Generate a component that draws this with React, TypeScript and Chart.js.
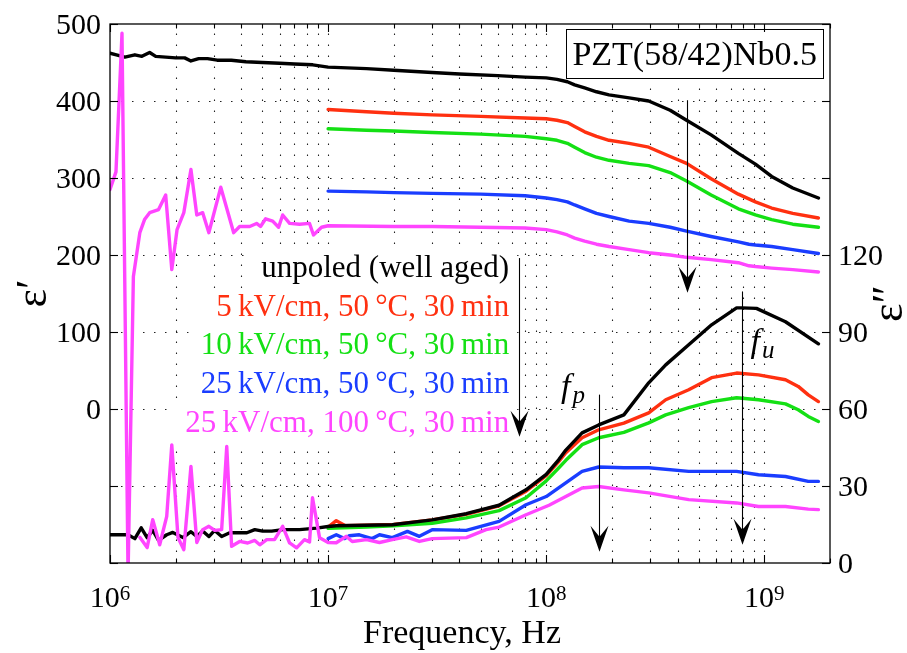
import React, { useEffect, useRef } from "react";
import { Chart, registerables } from "chart.js";

Chart.register(...registerables);

type Pt = [number, number];

// ---------- axis ranges & ticks ----------
const X_MIN = 1e6;
const X_MAX = 2e9;
const LEFT_MIN = -200;
const LEFT_MAX = 500;
const RIGHT_MIN = 0;
const RIGHT_MAX = 210;
const xTickExponents = [6, 7, 8, 9];
const leftTickMarks = [-200, -100, 0, 100, 200, 300, 400, 500];
const leftTickLabels = [0, 100, 200, 300, 400, 500];
const rightTickMarks = [0, 30, 60, 90, 120, 150, 180, 210];
const rightTickLabels = [0, 30, 60, 90, 120];

// ---------- ε' (left axis) ----------
const epsRealUnpoled: Pt[] = [
  [1e6, 462], [1.07e6, 460], [1.17e6, 457], [1.3e6, 460], [1.4e6, 458], [1.52e6, 463],
  [1.62e6, 458], [1.8e6, 457], [2.0e6, 456], [2.2e6, 456], [2.35e6, 452], [2.55e6, 455],
  [2.8e6, 455], [3.1e6, 453], [3.6e6, 453], [4.2e6, 451], [5e6, 450], [6e6, 449],
  [7e6, 448], [8.5e6, 447], [1e7, 444], [1.5e7, 442], [2e7, 440], [3e7, 437], [4e7, 435],
  [6e7, 433], [8e7, 431], [1e8, 430], [1.12e8, 428], [1.25e8, 425], [1.35e8, 421],
  [1.5e8, 417], [1.7e8, 412], [1.94e8, 408], [2.4e8, 404], [2.95e8, 400], [3.7e8, 388],
  [4.4e8, 375], [5.7e8, 356], [7.6e8, 332], [9.1e8, 318], [1.08e9, 302], [1.35e9, 287],
  [1.77e9, 274],
];
const epsReal5kV50C: Pt[] = [
  [1e7, 389], [1.5e7, 386], [2e7, 384], [3e7, 382], [5e7, 380], [8e7, 378], [1e8, 377],
  [1.12e8, 375], [1.25e8, 372], [1.35e8, 367], [1.5e8, 360], [1.7e8, 354], [1.94e8, 349],
  [2.4e8, 345], [2.95e8, 340], [3.7e8, 328], [4.4e8, 319], [5.7e8, 299], [7.6e8, 279],
  [9.1e8, 269], [1.08e9, 261], [1.35e9, 254], [1.77e9, 248],
];
const epsReal10kV50C: Pt[] = [
  [1e7, 364], [1.5e7, 362], [2e7, 361], [3e7, 359], [5e7, 357], [8e7, 354], [1e8, 351],
  [1.12e8, 349], [1.25e8, 345], [1.35e8, 340], [1.5e8, 333], [1.7e8, 327], [1.94e8, 323],
  [2.4e8, 319], [2.95e8, 316], [3.7e8, 307], [4.4e8, 296], [5.7e8, 278], [7.6e8, 260],
  [9.1e8, 252], [1.08e9, 246], [1.35e9, 240], [1.77e9, 236],
];
const epsReal25kV50C: Pt[] = [
  [1e7, 283], [1.5e7, 282], [2e7, 281], [3e7, 280], [5e7, 279], [8e7, 277], [1e8, 274],
  [1.12e8, 272], [1.25e8, 269], [1.35e8, 265], [1.5e8, 260], [1.7e8, 254], [1.94e8, 250],
  [2.4e8, 244], [2.95e8, 241], [3.7e8, 236], [4.4e8, 231], [5.7e8, 224], [7.6e8, 217],
  [8.5e8, 214], [9.1e8, 213], [1.08e9, 211], [1.35e9, 207], [1.77e9, 202],
];
const epsReal25kV100C: Pt[] = [
  [1e6, 285], [1.065e6, 308], [1.135e6, 488], [1.21e6, -215], [1.28e6, 172], [1.37e6, 229],
  [1.44e6, 246], [1.52e6, 255], [1.67e6, 259], [1.8e6, 278], [1.92e6, 181], [2.03e6, 233],
  [2.18e6, 255], [2.35e6, 311], [2.5e6, 252], [2.66e6, 255], [2.84e6, 229], [3.22e6, 288],
  [3.69e6, 229], [3.93e6, 237], [4.37e6, 237], [4.7e6, 241], [4.9e6, 237], [5.17e6, 247],
  [5.57e6, 244], [5.93e6, 236], [6.19e6, 252], [6.66e6, 241], [7.4e6, 240], [8.22e6, 241],
  [8.57e6, 226], [9.33e6, 236], [1e7, 238], [2e7, 237], [3e7, 237], [5e7, 236], [8e7, 235],
  [1e8, 233], [1.12e8, 230], [1.25e8, 226], [1.35e8, 222], [1.5e8, 218], [1.7e8, 214],
  [1.94e8, 211], [2.4e8, 207], [2.95e8, 203], [3.7e8, 200], [4.4e8, 197], [5.7e8, 194],
  [7.6e8, 190], [8.5e8, 186], [9.1e8, 185], [1.08e9, 183], [1.35e9, 181], [1.77e9, 178],
];

// ---------- ε'' (right axis) ----------
const epsImagUnpoled: Pt[] = [
  [1e6, 11], [1.21e6, 11], [1.3e6, 9.5], [1.39e6, 13.7], [1.48e6, 9.9], [1.57e6, 12.7],
  [1.67e6, 8.8], [1.82e6, 11], [1.94e6, 11.9], [2.16e6, 9.9], [2.35e6, 12.2], [2.5e6, 10.3],
  [2.66e6, 12.5], [2.84e6, 10.3], [3.02e6, 12.7], [3.25e6, 10.3], [3.54e6, 11.8],
  [4.24e6, 11.8], [4.61e6, 13], [5.01e6, 12.4], [5.51e6, 12.4], [6.19e6, 13], [7.4e6, 13],
  [8.84e6, 13.6], [1e7, 14.2], [1.09e7, 14.5], [1.97e7, 14.9], [3e7, 16.8], [4.3e7, 19.2],
  [6.08e7, 22.5], [6.97e7, 25.4], [8.08e7, 28.5], [1e8, 34.5], [1.14e8, 40.2], [1.23e8, 44],
  [1.46e8, 50.7], [1.74e8, 53.8], [2.27e8, 57.7], [2.95e8, 70.2], [3.53e8, 77.2],
  [4.5e8, 85], [5.73e8, 92.8], [7.46e8, 99.4], [7.9e8, 99.4], [9.2e8, 99.2], [1.25e9, 94],
  [1.77e9, 85.4],
];
const epsImag5kV50C: Pt[] = [
  [1e7, 14], [1.09e7, 16.5], [1.2e7, 14.5], [2e7, 15], [3e7, 16.8], [4.3e7, 19],
  [6.08e7, 22.3], [8.08e7, 28], [1e8, 34], [1.14e8, 39.5], [1.23e8, 43], [1.46e8, 48.8],
  [1.74e8, 51.9], [2.27e8, 54.5], [2.95e8, 58.5], [3.53e8, 63.6], [4.5e8, 67.5],
  [5.73e8, 72.2], [7.46e8, 74], [9.4e8, 73.3], [1.25e9, 71.4], [1.43e9, 68.8],
  [1.59e9, 65.5], [1.77e9, 62.9],
];
const epsImag10kV50C: Pt[] = [
  [1e7, 13.5], [1.5e7, 14], [2e7, 14.5], [3e7, 15.5], [4.3e7, 17.6], [6.08e7, 20.4],
  [8.08e7, 25.4], [1e8, 32], [1.14e8, 37], [1.23e8, 40], [1.46e8, 46.1], [1.74e8, 48.8],
  [2.27e8, 50.9], [2.95e8, 54.6], [3.53e8, 57.7], [4.5e8, 60.5], [5.73e8, 62.9],
  [7.46e8, 64.4], [9.4e8, 63.6], [1.25e9, 62], [1.43e9, 59.7], [1.59e9, 57.1],
  [1.77e9, 55.1],
];
const epsImag25kV50C: Pt[] = [
  [1e7, 9.5], [1.09e7, 11], [1.19e7, 9.5], [1.25e7, 10.6], [1.39e7, 11], [1.59e7, 9.5],
  [1.72e7, 11], [1.97e7, 9.9], [2.31e7, 12.3], [2.62e7, 10.4], [3e7, 13], [4.3e7, 12.7],
  [6.08e7, 16.2], [8.08e7, 22.7], [1e8, 25.9], [1.14e8, 29.3], [1.46e8, 35.7],
  [1.74e8, 37.4], [2.27e8, 37.1], [2.95e8, 37.1], [4.5e8, 35.7], [7.46e8, 35.7],
  [9.4e8, 34.4], [1.25e9, 33.7], [1.59e9, 31.8], [1.77e9, 31.8],
];
const epsImag25kV100C: Pt[] = [
  [1.37e6, 10], [1.48e6, 6], [1.57e6, 16.9], [1.69e6, 7.1], [1.82e6, 18.2], [1.92e6, 46],
  [2.05e6, 9.9], [2.18e6, 5.2], [2.35e6, 37.6], [2.5e6, 8], [2.66e6, 13], [2.84e6, 14.3],
  [3.02e6, 12.7], [3.25e6, 13], [3.43e6, 45.4], [3.61e6, 6.5], [3.93e6, 8.4], [4.28e6, 7.8],
  [4.61e6, 8.8], [4.86e6, 7.1], [5.23e6, 9.1], [5.68e6, 9.1], [6.19e6, 14.3], [6.66e6, 7.8],
  [7.17e6, 5.9], [7.79e6, 9.1], [8.22e6, 8.2], [8.48e6, 25.4], [9.14e6, 9.8], [1e7, 8],
  [1.09e7, 7.9], [1.21e7, 10.4], [1.29e7, 8.4], [1.5e7, 9.1], [1.72e7, 8], [1.97e7, 9.1],
  [2.28e7, 10.2], [2.62e7, 8.4], [3e7, 9.5], [4.3e7, 9.9], [5.3e7, 13], [6.08e7, 14],
  [8.08e7, 18.8], [1.03e8, 22.5], [1.46e8, 29.2], [1.74e8, 29.8], [2.27e8, 28.5],
  [2.95e8, 27.3], [4.5e8, 24.7], [7.46e8, 23.4], [9.4e8, 22], [1.25e9, 22], [1.59e9, 21],
  [1.77e9, 20.8],
];

// ---------- legend / annotations ----------
const seriesLabels = [
  "unpoled (well aged)",
  "5\u2009kV/cm, 50\u2009°C, 30\u2009min",
  "10\u2009kV/cm, 50\u2009°C, 30\u2009min",
  "25\u2009kV/cm, 50\u2009°C, 30\u2009min",
  "25\u2009kV/cm, 100\u2009°C, 30\u2009min",
];
const seriesColors = ["#000000", "#ff3010", "#14e014", "#1a3dff", "#ff45ff"];
const titleText = "PZT(58/42)Nb0.5";
const xAxisTitle = "Frequency, Hz";
const leftAxisTitle = "ε′";
const rightAxisTitle = "ε″";
// legend anchor: right edge frequency, first baseline on ε' axis
const legendAnchorFreq = 6.76e7;
const legendAnchorEps = 171.6;
const legendRowStep = 38.7;
// arrows: frequency, from, to, axis
const arrowFreqs = [4.41e8, 7.51e7, 1.74e8, 7.9e8];
const arrowFrom = [401, 196, 65.6, 105.8];
const arrowTo = [151, -36, 4.4, 7.1];
const arrowAxes = ["y", "y", "y1", "y1"];
// f labels: freq, ε'' baseline
const fLabelSubs = ["p", "u"];
const fLabelFreqs = [1.17e8, 8.65e8];
const fLabelVals = [64.8, 82.3];

const SERIF = '"Liberation Serif", "Times New Roman", serif';
const LEGEND_FONT = `31px ${SERIF}`;

const toXY = (pts: Pt[]) => pts.map(([x, y]) => ({ x, y }));

const decorPlugin = {
  id: "decor",
  beforeDraw(chart: any) {
    const ctx = chart.ctx;
    ctx.save();
    ctx.fillStyle = "#ffffff";
    ctx.fillRect(0, 0, chart.width, chart.height);
    ctx.restore();
  },
  beforeDatasetsDraw(chart: any) {
    const { ctx, chartArea: ca, scales } = chart;
    const sx = scales.x;
    const sy = scales.y;
    ctx.save();
    // dotted grid
    ctx.strokeStyle = "#222";
    ctx.lineWidth = 1.1;
    ctx.setLineDash([1.5, 9.5]);
    for (let e = 6; e <= 9; e++) {
      for (let m = 1; m <= 9; m++) {
        const v = m * Math.pow(10, e);
        if (v <= X_MIN || v >= X_MAX) continue;
        const px = Math.round(sx.getPixelForValue(v)) + 0.5;
        ctx.beginPath();
        ctx.moveTo(px, ca.bottom);
        ctx.lineTo(px, ca.top);
        ctx.stroke();
      }
    }
    for (const v of leftTickMarks) {
      if (v <= LEFT_MIN || v >= LEFT_MAX) continue;
      const py = Math.round(sy.getPixelForValue(v)) + 0.5;
      ctx.beginPath();
      ctx.moveTo(ca.left, py);
      ctx.lineTo(ca.right, py);
      ctx.stroke();
    }
    ctx.setLineDash([]);
    // white backgrounds for legend rows
    ctx.fillStyle = "#ffffff";
    ctx.font = LEGEND_FONT;
    const xr = sx.getPixelForValue(legendAnchorFreq);
    const y0 = sy.getPixelForValue(legendAnchorEps);
    seriesLabels.forEach((t, i) => {
      const w = ctx.measureText(t).width;
      const by = y0 + i * legendRowStep;
      ctx.fillRect(xr - w - 12, by - 27, w + 20, legendRowStep + 1);
    });
    // title box background
    ctx.font = `34px ${SERIF}`;
    const tw = ctx.measureText(titleText).width;
    const bw = tw + 12;
    ctx.fillRect(ca.right - 7 - bw, ca.top + 5, bw, 49);
    ctx.restore();
  },
  afterDatasetsDraw(chart: any) {
    const { ctx, chartArea: ca, scales } = chart;
    const sx = scales.x;
    const sy = scales.y;
    const sy1 = scales.y1;
    ctx.save();
    // frame
    ctx.strokeStyle = "#000";
    ctx.lineWidth = 1.3;
    ctx.strokeRect(ca.left, ca.top, ca.right - ca.left, ca.bottom - ca.top);
    // x ticks
    ctx.lineWidth = 1.1;
    for (let e = 6; e <= 9; e++) {
      for (let m = 1; m <= 9; m++) {
        const v = m * Math.pow(10, e);
        if (v < X_MIN || v > X_MAX) continue;
        const px = Math.round(sx.getPixelForValue(v)) + 0.5;
        const len = m === 1 ? 8 : 4.5;
        ctx.beginPath();
        ctx.moveTo(px, ca.bottom);
        ctx.lineTo(px, ca.bottom - len);
        ctx.moveTo(px, ca.top);
        ctx.lineTo(px, ca.top + len);
        ctx.stroke();
      }
    }
    for (const v of leftTickMarks) {
      const py = Math.round(sy.getPixelForValue(v)) + 0.5;
      ctx.beginPath();
      ctx.moveTo(ca.left, py);
      ctx.lineTo(ca.left + 8, py);
      ctx.stroke();
    }
    for (const v of rightTickMarks) {
      const py = Math.round(sy1.getPixelForValue(v)) + 0.5;
      ctx.beginPath();
      ctx.moveTo(ca.right, py);
      ctx.lineTo(ca.right - 8, py);
      ctx.stroke();
    }
    // tick labels
    ctx.fillStyle = "#000";
    ctx.font = `30px ${SERIF}`;
    ctx.textBaseline = "alphabetic";
    ctx.textAlign = "right";
    for (const v of leftTickLabels) {
      ctx.fillText(String(v), ca.left - 9, sy.getPixelForValue(v) + 10);
    }
    ctx.textAlign = "left";
    for (const v of rightTickLabels) {
      ctx.fillText(String(v), ca.right + 8, sy1.getPixelForValue(v) + 10);
    }
    for (const e of xTickExponents) {
      const px = sx.getPixelForValue(Math.pow(10, e));
      ctx.font = `30px ${SERIF}`;
      const w1 = ctx.measureText("10").width;
      ctx.font = `21px ${SERIF}`;
      const w2 = ctx.measureText(String(e)).width;
      const start = px - (w1 + w2) / 2;
      ctx.font = `30px ${SERIF}`;
      ctx.fillText("10", start, ca.bottom + 44);
      ctx.font = `21px ${SERIF}`;
      ctx.fillText(String(e), start + w1, ca.bottom + 37);
    }
    // axis titles
    ctx.font = `34px ${SERIF}`;
    ctx.textAlign = "center";
    ctx.fillText(xAxisTitle, (ca.left + ca.right) / 2 - 8, ca.bottom + 80);
    ctx.font = `44px ${SERIF}`;
    ctx.save();
    ctx.translate(46, (ca.top + ca.bottom) / 2);
    ctx.rotate(-Math.PI / 2);
    ctx.fillText(leftAxisTitle, 0, 0);
    ctx.restore();
    ctx.save();
    ctx.translate(902, (ca.top + ca.bottom) / 2 + 10);
    ctx.rotate(-Math.PI / 2);
    ctx.fillText(rightAxisTitle, 0, 0);
    ctx.restore();
    // legend texts
    ctx.font = LEGEND_FONT;
    ctx.textAlign = "right";
    const xr = sx.getPixelForValue(legendAnchorFreq);
    const y0 = sy.getPixelForValue(legendAnchorEps);
    seriesLabels.forEach((t, i) => {
      ctx.fillStyle = seriesColors[i];
      ctx.fillText(t, xr, y0 + i * legendRowStep);
    });
    // title box
    ctx.font = `34px ${SERIF}`;
    const tw = ctx.measureText(titleText).width;
    const bw = tw + 12;
    const bx = ca.right - 7 - bw;
    const by = ca.top + 5;
    ctx.strokeStyle = "#000";
    ctx.lineWidth = 1;
    ctx.strokeRect(Math.round(bx) + 0.5, Math.round(by) + 0.5, Math.round(bw), 49);
    ctx.fillStyle = "#000";
    ctx.textAlign = "center";
    ctx.fillText(titleText, bx + bw / 2, by + 36);
    // arrows
    ctx.fillStyle = "#000";
    ctx.strokeStyle = "#000";
    arrowFreqs.forEach((f, i) => {
      const sc = arrowAxes[i] === "y" ? sy : sy1;
      const px = Math.round(sx.getPixelForValue(f)) + 0.5;
      const yTop = sc.getPixelForValue(arrowFrom[i]);
      const yTip = sc.getPixelForValue(arrowTo[i]);
      ctx.lineWidth = 1.1;
      ctx.beginPath();
      ctx.moveTo(px, yTop);
      ctx.lineTo(px, yTip - 10);
      ctx.stroke();
      ctx.beginPath();
      ctx.moveTo(px, yTip);
      ctx.lineTo(px - 9, yTip - 26);
      ctx.lineTo(px, yTip - 15);
      ctx.lineTo(px + 9, yTip - 26);
      ctx.closePath();
      ctx.fill();
    });
    // f_p, f_u
    ctx.textAlign = "left";
    fLabelSubs.forEach((s, i) => {
      const px = sx.getPixelForValue(fLabelFreqs[i]);
      const py = sy1.getPixelForValue(fLabelVals[i]);
      ctx.font = `italic 34px ${SERIF}`;
      const w = ctx.measureText("f").width;
      ctx.fillText("f", px, py);
      ctx.font = `italic 25px ${SERIF}`;
      ctx.fillText(s, px + w + 2, py + 6);
    });
    ctx.restore();
  },
};

export default function App() {
  const canvasRef = useRef<HTMLCanvasElement | null>(null);

  useEffect(() => {
    document.body.style.margin = "0";
    const canvas = canvasRef.current;
    if (!canvas) return;
    const mk = (pts: Pt[], color: string, axis: string) => ({
      data: toXY(pts),
      borderColor: color,
      backgroundColor: color,
      borderWidth: 3.4,
      pointRadius: 0,
      tension: 0,
      fill: false,
      borderJoinStyle: "round" as const,
      borderCapStyle: "round" as const,
      yAxisID: axis,
    });
    const chart = new Chart(canvas, {
      type: "line",
      data: {
        datasets: [
          mk(epsReal25kV100C, seriesColors[4], "y"),
          mk(epsImag25kV100C, seriesColors[4], "y1"),
          mk(epsRealUnpoled, seriesColors[0], "y"),
          mk(epsImagUnpoled, seriesColors[0], "y1"),
          mk(epsReal25kV50C, seriesColors[3], "y"),
          mk(epsImag25kV50C, seriesColors[3], "y1"),
          mk(epsReal10kV50C, seriesColors[2], "y"),
          mk(epsImag10kV50C, seriesColors[2], "y1"),
          mk(epsReal5kV50C, seriesColors[1], "y"),
          mk(epsImag5kV50C, seriesColors[1], "y1"),
        ] as any,
      },
      options: {
        animation: false,
        responsive: false,
        devicePixelRatio: 1,
        parsing: false as any,
        layout: { padding: { top: 24, left: 0, right: 0, bottom: 0 } },
        plugins: {
          legend: { display: false },
          tooltip: { enabled: false },
          title: { display: false },
        },
        scales: {
          x: {
            type: "logarithmic",
            min: X_MIN,
            max: X_MAX,
            grid: { display: false },
            border: { display: false },
            ticks: { display: false },
            afterFit: (s: any) => {
              s.height = 90;
            },
          },
          y: {
            type: "linear",
            position: "left",
            min: LEFT_MIN,
            max: LEFT_MAX,
            grid: { display: false },
            border: { display: false },
            ticks: { display: false },
            afterFit: (s: any) => {
              s.width = 110;
            },
          },
          y1: {
            type: "linear",
            position: "right",
            min: RIGHT_MIN,
            max: RIGHT_MAX,
            grid: { display: false },
            border: { display: false },
            ticks: { display: false },
            afterFit: (s: any) => {
              s.width = 77;
            },
          },
        },
      } as any,
      plugins: [decorPlugin],
    });
    return () => chart.destroy();
  }, []);

  return (
    <div style={{ width: 907, height: 653 }}>
      <canvas ref={canvasRef} width={907} height={653} style={{ display: "block" }} />
    </div>
  );
}
